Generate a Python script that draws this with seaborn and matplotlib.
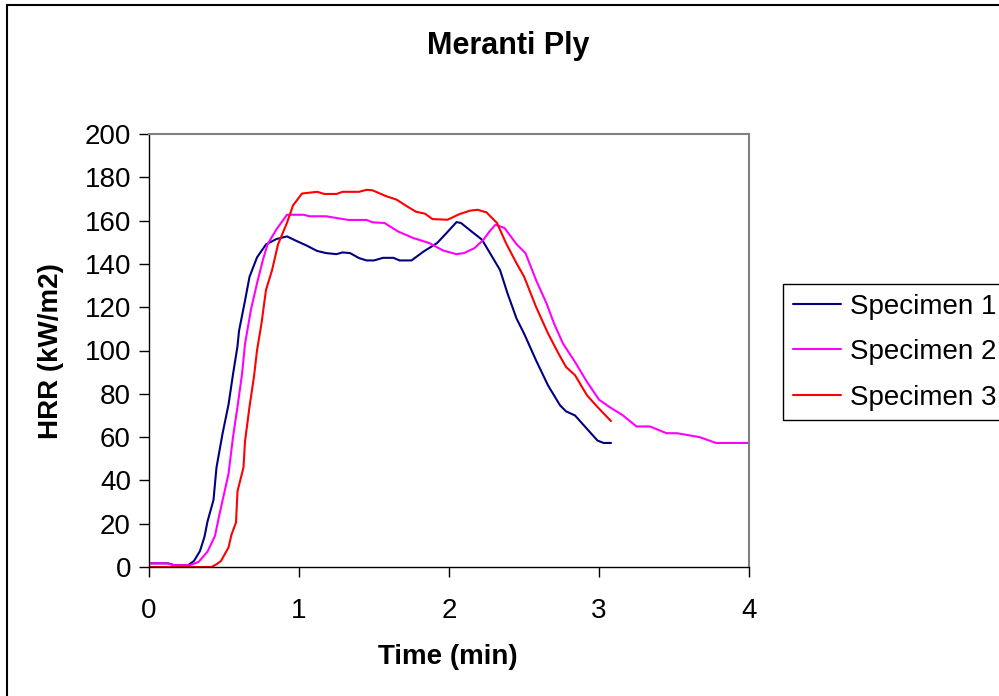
import numpy as np
import pandas as pd
import matplotlib
matplotlib.use("Agg")
import matplotlib.pyplot as plt
import seaborn as sns
from matplotlib.patches import Rectangle

# Specimen 1 (navy)
t1 = [0, 0.127, 0.17, 0.26, 0.30, 0.34, 0.37, 0.39, 0.43, 0.45, 0.49, 0.53, 0.56, 0.59,
      0.60, 0.64, 0.67, 0.72, 0.78, 0.85, 0.92, 0.98, 1.05, 1.12, 1.18, 1.25, 1.29, 1.34,
      1.40, 1.45, 1.50, 1.56, 1.63, 1.67, 1.75, 1.83, 1.92, 1.98, 2.05, 2.08, 2.15, 2.22,
      2.28, 2.34, 2.39, 2.45, 2.50, 2.58, 2.66, 2.74, 2.78, 2.84, 2.92, 2.99, 3.03, 3.08]
hrr1 = [1.7, 1.7, 0.8, 0.8, 2.8, 7.4, 14, 21, 31, 46, 61.5, 75, 89, 102,
        109, 123, 134, 143, 149, 151.5, 152.7, 150.7, 148.5, 146, 145, 144.5, 145.3, 145,
        142.7, 141.6, 141.6, 142.8, 142.8, 141.6, 141.6, 145.7, 149.6, 154, 159.3, 158.9, 155, 151.2,
        144.2, 137.2, 126.4, 114.8, 107.9, 95.5, 83.9, 74.7, 71.9, 70, 63.8, 58.4, 57.3, 57.3]

# Specimen 2 (magenta)
t2 = [0, 0.116, 0.17, 0.27, 0.33, 0.39, 0.44, 0.47, 0.53, 0.56, 0.59, 0.62, 0.64, 0.68,
      0.72, 0.76, 0.79, 0.85, 0.92, 1.03, 1.07, 1.18, 1.33, 1.45, 1.49, 1.57, 1.66, 1.76,
      1.87, 1.96, 2.05, 2.10, 2.17, 2.23, 2.27, 2.31, 2.37, 2.45, 2.51, 2.58, 2.65, 2.70,
      2.76, 2.84, 2.92, 3.00, 3.07, 3.16, 3.25, 3.34, 3.45, 3.52, 3.67, 3.78, 4.0]
hrr2 = [1.7, 1.7, 0.8, 0.8, 2.3, 7.1, 14.4, 24.4, 43, 60, 74, 89, 103, 119,
        131, 142, 149, 156, 162.7, 162.7, 162, 162, 160.3, 160.3, 159.2, 158.9, 155, 152,
        149.6, 146.2, 144.5, 145, 147.3, 151.2, 155, 158.1, 156.6, 149.1, 145, 132.6, 121.8, 112.5,
        103.2, 94.7, 85.5, 77.3, 73.9, 70, 64.9, 64.9, 61.8, 61.8, 60, 57.3, 57.3]

# Specimen 3 (red)
t3 = [0, 0.416, 0.449, 0.48, 0.53, 0.55, 0.58, 0.59, 0.63, 0.64, 0.67, 0.70, 0.72, 0.75,
      0.78, 0.82, 0.86, 0.92, 0.96, 1.02, 1.12, 1.17, 1.25, 1.29, 1.40, 1.45, 1.49, 1.58,
      1.65, 1.72, 1.78, 1.84, 1.89, 1.99, 2.07, 2.14, 2.19, 2.25, 2.32, 2.38, 2.45, 2.50,
      2.58, 2.66, 2.73, 2.78, 2.84, 2.92, 2.99, 3.08]
hrr3 = [0, 0, 1.2, 2.8, 9, 15, 20.5, 35, 46, 58, 74, 88, 100, 112.5,
        128, 137, 149, 159, 167, 172.5, 173.3, 172.3, 172.3, 173.3, 173.3, 174.2, 174, 171.3,
        169.7, 166.6, 164.1, 163.2, 160.7, 160.4, 163, 164.6, 165, 163.8, 158.9, 149.6, 140.3, 134.2,
        120.2, 107.9, 98.6, 92.4, 88.6, 79.3, 73.9, 67.4]

labels = ["Specimen 1", "Specimen 2", "Specimen 3"]
colors = {"Specimen 1": "#000080", "Specimen 2": "#FF00FF", "Specimen 3": "#FF0000"}

df = pd.concat([
    pd.DataFrame({"time": t, "hrr": v, "specimen": lab})
    for t, v, lab in zip([t1, t2, t3], [hrr1, hrr2, hrr3], labels)
], ignore_index=True)

sns.set_style("white")
plt.rcParams["font.family"] = ["Liberation Sans", "DejaVu Sans"]
plt.rcParams.update({"text.color": "black", "axes.labelcolor": "black",
                     "xtick.color": "black", "ytick.color": "black"})

W, H = 999, 696
fig = plt.figure(figsize=(W / 100, H / 100), dpi=100)
ax = fig.add_axes([149 / W, 1 - 567 / H, 600 / W, 433 / H])

sns.lineplot(data=df, x="time", y="hrr", hue="specimen", palette=colors,
             sort=False, estimator=None, linewidth=1.5, ax=ax, legend=False)

ax.set_xlim(0, 4)
ax.set_ylim(0, 200)
ax.set_xticks(range(0, 5))
ax.set_yticks(range(0, 201, 20))
ax.tick_params(axis="both", direction="out", length=7, width=1, color="black",
               labelsize=20, pad=6, bottom=True, left=True)
ax.tick_params(axis="x", pad=15)
for side in ["left", "bottom"]:
    ax.spines[side].set_color("black")
    ax.spines[side].set_linewidth(1)
for side in ["top", "right"]:
    ax.spines[side].set_color("#808080")
    ax.spines[side].set_linewidth(1.5)

ax.set_xlabel("Time (min)", fontsize=20, fontweight="bold")
ax.set_ylabel("HRR (kW/m2)", fontsize=20, fontweight="bold")
ax.xaxis.set_label_coords(448 / W, 1 - 657 / H, transform=fig.transFigure)
ax.yaxis.set_label_coords(51 / W, 1 - 351 / H, transform=fig.transFigure)
ax.xaxis.label.set_va("center")
ax.yaxis.label.set_va("center")
fig.text(508 / W, 1 - 46 / H, "Meranti Ply", fontsize=22, fontweight="bold",
         ha="center", va="center")

handles = [plt.Line2D([], [], color=colors[l], lw=1.5) for l in labels]
leg = fig.legend(handles, labels, loc="upper left",
                 bbox_to_anchor=(783 / W, 1 - 284 / H), bbox_transform=fig.transFigure,
                 fontsize=20, frameon=True, fancybox=False, framealpha=1,
                 edgecolor="black", borderpad=0.35, handlelength=1.75,
                 handletextpad=0.32, labelspacing=0.7, borderaxespad=0)
leg.get_frame().set_linewidth(1)

# outer chart frame
fig.patches.append(Rectangle((7 / W, -0.1), 1.2, 1 - 5 / H + 0.1,
                             transform=fig.transFigure, fill=False,
                             edgecolor="black", linewidth=1.5))

fig.savefig("out.png", dpi=100)
